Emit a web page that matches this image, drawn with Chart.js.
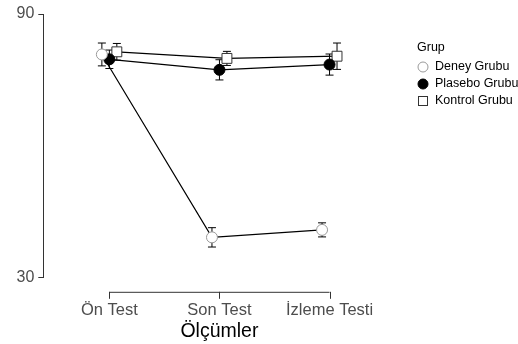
<!DOCTYPE html>
<html>
<head>
<meta charset="utf-8">
<script src="https://cdn.jsdelivr.net/npm/chart.js@4/dist/chart.umd.min.js"></script>
<style>
  html, body { margin: 0; padding: 0; background: #fff; }
  #wrap { width: 518px; height: 344px; }
</style>
</head>
<body>
<div id="wrap"><canvas id="myChart"></canvas></div>
<script>
// veriler
const categories = ['Ön Test', 'Son Test', 'İzleme Testi'];
const groupNames = ['Deney Grubu', 'Plasebo Grubu', 'Kontrol Grubu'];
const deneyValues = [80.8, 39.2, 40.9];
const plaseboValues = [79.7, 77.3, 78.5];
const kontrolValues = [81.4, 79.9, 80.4];
const deneyErr = [2.6, 2.2, 1.6];
const plaseboErr = [2.1, 2.3, 2.4];
const kontrolErr = [1.9, 1.6, 3.0];
const yTicks = [30, 90];

const dodge = 0.068; // pozisyon kaydirma
const fontFam = '"Liberation Sans", Arial, sans-serif';

function toPoints(values, shift) {
  return values.map((v, i) => ({ x: i + 1 + shift, y: v }));
}

const errors = [deneyErr, plaseboErr, kontrolErr];

const errorBars = {
  id: 'errorBars',
  beforeDatasetsDraw(chart) {
    const c = chart.ctx;
    const ys = chart.scales.y;
    c.save();
    c.strokeStyle = '#000';
    c.lineWidth = 1;
    chart.data.datasets.forEach((ds, di) => {
      ds.data.forEach((p, i) => {
        const x = chart.scales.x.getPixelForValue(p.x);
        const top = ys.getPixelForValue(p.y + errors[di][i]);
        const bot = ys.getPixelForValue(p.y - errors[di][i]);
        c.beginPath();
        c.moveTo(x, top); c.lineTo(x, bot);
        c.moveTo(x - 4, top); c.lineTo(x + 4, top);
        c.moveTo(x - 4, bot); c.lineTo(x + 4, bot);
        c.stroke();
      });
    });
    c.restore();
  }
};

const extras = {
  id: 'extras',
  afterDraw(chart) {
    const c = chart.ctx;
    const xs = chart.scales.x;
    const yLine = chart.chartArea.bottom + 14;
    c.save();
    // x ekseni cizgisi
    c.strokeStyle = '#333';
    c.lineWidth = 1;
    c.beginPath();
    const x0 = xs.getPixelForValue(1), x1 = xs.getPixelForValue(categories.length);
    c.moveTo(x0, yLine + 0.5); c.lineTo(x1, yLine + 0.5);
    categories.forEach((cat, i) => {
      const x = Math.round(xs.getPixelForValue(i + 1)) + 0.5;
      c.moveTo(x, yLine); c.lineTo(x, yLine + 7);
    });
    c.stroke();

    // lejant
    const lx = 417;
    c.fillStyle = '#000';
    c.font = '12.5px ' + fontFam;
    c.textBaseline = 'middle';
    c.textAlign = 'left';
    c.fillText('Grup', lx, 48);
    const rows = [67, 84, 101];
    chart.data.datasets.forEach((ds, i) => {
      const cy = rows[i], cx = lx + 6;
      c.lineWidth = 1;
      if (ds.pointStyle === 'rect') {
        c.fillStyle = '#fff';
        c.strokeStyle = '#333';
        c.fillRect(cx - 5, cy - 5, 10, 10);
        c.strokeRect(cx - 4.5, cy - 4.5, 9, 9);
      } else {
        c.beginPath();
        c.arc(cx, cy, 5, 0, Math.PI * 2);
        c.fillStyle = ds.pointBackgroundColor;
        c.fill();
        c.strokeStyle = ds.pointBorderColor;
        c.stroke();
      }
      c.fillStyle = '#000';
      c.fillText(groupNames[i], lx + 18, cy);
    });
    c.restore();
  }
};

const ctx = document.getElementById('myChart');

new Chart(ctx, {
  type: 'line',
  data: {
    datasets: [{
      label: groupNames[0],
      data: toPoints(deneyValues, -dodge),
      borderColor: '#000',
      borderWidth: 1.2,
      pointStyle: 'circle',
      pointRadius: 5.5,
      pointBackgroundColor: '#fff',
      pointBorderColor: '#999',
      pointBorderWidth: 1
    }, {
      label: groupNames[1],
      data: toPoints(plaseboValues, 0),
      borderColor: '#000',
      borderWidth: 1.2,
      pointStyle: 'circle',
      pointRadius: 5.5,
      pointBackgroundColor: '#000',
      pointBorderColor: '#000',
      pointBorderWidth: 1
    }, {
      label: groupNames[2],
      data: toPoints(kontrolValues, dodge),
      borderColor: '#000',
      borderWidth: 1.2,
      pointStyle: 'rect',
      pointRadius: 7,
      pointBackgroundColor: '#fff',
      pointBorderColor: '#333',
      pointBorderWidth: 1
    }]
  },
  options: {
    responsive: true,
    maintainAspectRatio: false,
    animation: false,
    layout: { padding: { left: 12.5, right: 122.4, top: 14, bottom: 0 } },
    plugins: {
      legend: { display: false },
      tooltip: { enabled: false }
    },
    scales: {
      x: {
        type: 'linear',
        min: 0.4,
        max: 3.6,
        afterBuildTicks: (scale) => { scale.ticks = categories.map((c, i) => ({ value: i + 1 })); },
        grid: { display: false, drawTicks: false },
        border: { display: false },
        ticks: {
          padding: 23,
          color: '#4d4d4d',
          font: { family: fontFam, size: 16.5 },
          autoSkip: false,
          maxRotation: 0,
          callback: (v) => categories[v - 1]
        },
        title: {
          display: true,
          text: 'Ölçümler',
          color: '#000',
          font: { family: fontFam, size: 19.5 },
          padding: { top: -24, bottom: 1 }
        }
      },
      y: {
        min: 30,
        max: 90,
        afterBuildTicks: (scale) => { scale.ticks = yTicks.map(v => ({ value: v })); },
        grid: { display: true, drawOnChartArea: false, tickLength: 5, color: '#333' },
        border: { display: true, color: '#333', width: 1 },
        ticks: {
          padding: 4,
          color: '#4d4d4d',
          font: { family: fontFam, size: 16 }
        }
      }
    }
  },
  plugins: [errorBars, extras]
});
</script>
</body>
</html>
